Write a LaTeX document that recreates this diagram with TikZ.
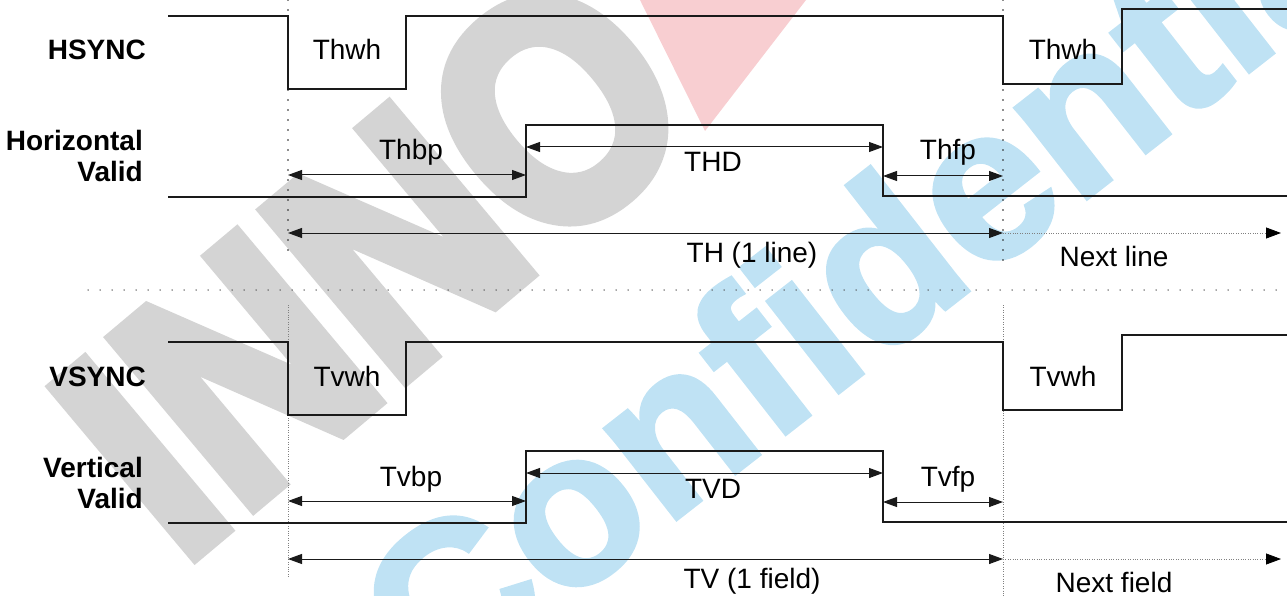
\documentclass[tikz,border=0pt]{standalone}
\usepackage{fontspec}
\setmainfont{Liberation Sans}
\newfontfamily\wmfont{Liberation Sans}[BoldFeatures={FakeBold=5}]
\newfontfamily\wmlight{Liberation Sans}[BoldFeatures={FakeBold=2}]
\usetikzlibrary{arrows.meta,positioning,calc}
\definecolor{Ink}{HTML}{1A1A1A}
\definecolor{WmGray}{HTML}{D4D4D4}
\definecolor{WmBlue}{HTML}{BFE2F4}
\definecolor{WmRed}{HTML}{F8CED1}
\tikzset{
  wave/.style={Ink,line width=1.4pt,line join=miter},
  dim/.style={Ink,line width=1pt,{Triangle[length=14pt,width=10pt]}-{Triangle[length=14pt,width=10pt]}},
  nextdim/.style={gray,line width=0.8pt,dash pattern=on 0.8pt off 1.6pt,-{Triangle[length=15pt,width=11pt,black]}},
  guide/.style={Ink,line width=1.6pt,line cap=round,dash pattern=on 0pt off 10pt},
  fineguide/.style={gray,line width=0.8pt,dash pattern=on 0.8pt off 1.6pt},
  sepline/.style={Ink!80,line width=1.5pt,line cap=round,dash pattern=on 0pt off 12pt},
  lbl/.style={anchor=base,inner sep=0pt,font=\fontsize{28}{31}\selectfont},
  sig/.style={anchor=base east,align=right,inner sep=0pt,font=\fontsize{28}{31}\selectfont\bfseries},
  wmark/.style={inner sep=0pt,transform shape}
}

\begin{document}
\begin{tikzpicture}[x=1pt,y=-1pt]
\useasboundingbox (0,0) rectangle (1287,596);
% watermark
\begin{scope}
  \clip (0,0) rectangle (1287,596);
  \fill[WmRed] (640,0) -- (806,0) -- (705,131) -- cycle;
  \begin{scope}[shift={(374,262)},rotate=40,yscale=1.15]
    \node[wmark,text=WmGray,font=\fontsize{275}{275}\selectfont\wmfont\bfseries] (inno) at (0,0) {INNO};
  \end{scope}
  \begin{scope}[shift={(884,258)},rotate=38]
    \node[wmark,text=WmBlue,font=\fontsize{218}{218}\selectfont\wmlight\bfseries] (conf) at (0,0) {Confidential};
  \end{scope}
\end{scope}
% guides
\draw[guide] (288,0) -- (288,253);
\draw[guide] (1003,0) -- (1003,263);
\draw[fineguide] (288,305) -- (288,577);
\draw[fineguide] (1003,305) -- (1003,596);
\draw[sepline] (88,290) -- (1287,290);
% one block per sync
\foreach \oy/\k/\sync/\valid/\wh/\bp/\act/\fp/\tot/\nxt in {%
    0/h/HSYNC/Horizontal/Thwh/Thbp/THD/Thfp/{TH (1 line)}/{Next line},
    326/v/VSYNC/Vertical/Tvwh/Tvbp/TVD/Tvfp/{TV (1 field)}/{Next field}} {
  \begin{scope}[shift={(0,\oy)}]
  \node[sig] (\k sync) at (146,60) {\sync};
  \node[sig] (\k valid) at (143,182) {\valid\\Valid};
  \draw[wave] (168,16) -- (288,16) -- (288,89) -- (406,89) -- (406,16)
    -- (1003,16) -- (1003,84) -- (1122,84) -- (1122,9) -- (1287,9);
  \draw[wave] (168,197) -- (526,197) -- (526,125) -- (883,125) -- (883,196) -- (1287,196);
  \coordinate (\k bp0) at (288,175);
  \coordinate (\k bp1) at (526,175);
  \coordinate (\k act0) at (526,147);
  \coordinate (\k act1) at (883,147);
  \coordinate (\k fp0) at (883,176);
  \coordinate (\k fp1) at (1003,176);
  \coordinate (\k tot0) at (288,233);
  \coordinate (\k tot1) at (1003,233);
  \coordinate (\k nxt) at (1281,233);
  \draw[dim] (\k bp0) -- (\k bp1);
  \draw[dim] (\k act0) -- (\k act1);
  \draw[dim] (\k fp0) -- (\k fp1);
  \draw[dim] (\k tot0) -- (\k tot1);
  \draw[nextdim] (\k tot1) -- (\k nxt);
  \node[lbl] (\k wh) at (347,60) {\wh};
  \node[lbl] (\k wh2) at (1063,60) {\wh};
  \node[lbl] (\k bpl) at (411,160) {\bp};
  \node[lbl] (\k actl) at (713,172) {\act};
  \node[lbl] (\k fpl) at (948,160) {\fp};
  \node[lbl] (\k totl) at (752,262) {\tot};
  \node[lbl] (\k nxtl) at (1114,266) {\nxt};
  \end{scope}
}
\end{tikzpicture}
\end{document}
